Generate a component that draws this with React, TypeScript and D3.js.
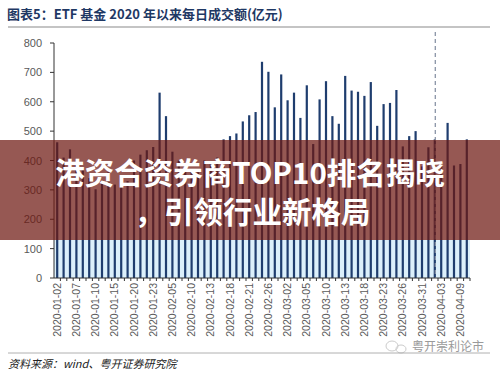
import React from "react";
import * as d3 from "d3";

const dates = [
  "2020-01-02","2020-01-03","2020-01-06","2020-01-07","2020-01-08","2020-01-09","2020-01-10","2020-01-13","2020-01-14","2020-01-15","2020-01-16","2020-01-17","2020-01-20","2020-01-21","2020-01-22","2020-01-23",
  "2020-02-03","2020-02-04","2020-02-05","2020-02-06","2020-02-07","2020-02-10","2020-02-11","2020-02-12","2020-02-13","2020-02-14","2020-02-17","2020-02-18","2020-02-19","2020-02-20","2020-02-21","2020-02-24","2020-02-25","2020-02-26","2020-02-27","2020-02-28",
  "2020-03-02","2020-03-03","2020-03-04","2020-03-05","2020-03-06","2020-03-09","2020-03-10","2020-03-11","2020-03-12","2020-03-13","2020-03-16","2020-03-17","2020-03-18","2020-03-19","2020-03-20","2020-03-23","2020-03-24","2020-03-25","2020-03-26","2020-03-27","2020-03-30","2020-03-31",
  "2020-04-01","2020-04-02","2020-04-03","2020-04-07","2020-04-08","2020-04-09","2020-04-10"
];

const turnover = [
  462,410,438,390,370,340,302,330,360,318,318,330,400,420,435,446,
  631,551,430,400,380,370,360,400,390,410,472,483,492,533,554,565,736,702,581,693,
  605,631,545,656,456,608,670,551,525,688,638,634,620,667,518,592,596,640,448,483,500,380,
  445,472,390,528,383,388,472
];

const yTicks = [0, 100, 200, 300, 400, 500, 600, 700, 800];
const markerDate = "2020-04-02";

const title = "图表5：ETF 基金 2020 年以来每日成交额(亿元)";
const bannerLine1 = "港资合资券商TOP10排名揭晓";
const bannerLine2 = "，引领行业新格局";
const source = "资料来源：wind、粤开证券研究院";
const watermark = "粤开崇利论市";

export default function App() {
  const W = 500, H = 379;
  const x = d3.scaleBand<string>().domain(dates).range([54, 470]).padding(0);
  const y = d3.scaleLinear().domain([0, 800]).range([278, 43]);
  const barW = 2.2;
  const font = "'Noto Sans CJK SC', 'Noto Sans', sans-serif";
  const labelDates = dates.filter((_, i) => i % 3 === 0);
  const mx = (x(markerDate) as number) + x.bandwidth() / 2 + 0.5;

  return (
    <svg width={W} height={H} style={{ position: "absolute", left: 0, top: 0, background: "#fff" }}>
      <rect x={0} y={0} width={W} height={H} fill="#fff" />
      {/* title */}
      <text x={7} y={19} fontFamily={font} fontSize={13} fontWeight="bold" fill="#1f3864">{title}</text>
      <line x1={8} x2={490} y1={27} y2={27} stroke="#b0b0b0" strokeWidth={1.5} />

      {/* light blue lower band */}
      <rect x={54} y={240} width={416} height={38} fill="#dcf0fb" />

      {/* y axis */}
      <line x1={54} x2={54} y1={43} y2={278} stroke="#333" strokeWidth={1} />
      {yTicks.map((t) => (
        <g key={t}>
          <line x1={50} x2={54} y1={y(t)} y2={y(t)} stroke="#333" />
          <text x={42} y={y(t) + 4} textAnchor="end" fontFamily="'Liberation Sans', Arial, sans-serif" fontSize={11} fill="#595959">{t}</text>
        </g>
      ))}

      {/* bars */}
      {dates.map((d, i) => (
        <rect key={d} x={(x(d) as number) + x.bandwidth() / 2 - barW / 2} y={y(turnover[i])} width={barW} height={278 - y(turnover[i])} fill="#1f3d6e" />
      ))}

      {/* dashed marker */}
      <line x1={mx} x2={mx} y1={32} y2={278} stroke="#8a94a6" strokeWidth={1.3} strokeDasharray="4,3" />

      {/* x axis */}
      <line x1={54} x2={470} y1={278} y2={278} stroke="#333" />
      {dates.map((d) => (
        <line key={"t" + d} x1={(x(d) as number) + x.bandwidth()} x2={(x(d) as number) + x.bandwidth()} y1={278} y2={281} stroke="#333" />
      ))}
      {labelDates.map((d) => {
        const cx = (x(d) as number) + x.bandwidth() / 2 + 3.5;
        return (
          <text key={"l" + d} transform={`translate(${cx},283) rotate(-90)`} textAnchor="end" fontFamily="'Liberation Sans', Arial, sans-serif" fontSize={10.5} fill="#595959">{d}</text>
        );
      })}

      {/* banner */}
      <rect x={0} y={140} width={W} height={100} fill="rgb(110,24,16)" fillOpacity={0.72} />
      <text x={250} y={184} textAnchor="middle" fontFamily={font} fontSize={29.5} fontWeight="bold" fill="#fff">{bannerLine1}</text>
      <text x={252.5} y={223} textAnchor="middle" fontFamily={font} fontSize={29.5} fontWeight="bold" fill="#fff">{bannerLine2}</text>

      {/* footer */}
      <line x1={8} x2={490} y1={353} y2={353} stroke="#b0b0b0" strokeWidth={1} />
      <text x={8} y={368} fontFamily={font} fontSize={11} fontStyle="italic" fill="#222">{source}</text>
      <g opacity={0.6}>
        <ellipse cx={392} cy={346} rx={6} ry={5} fill="none" stroke="#aaa" />
        <ellipse cx={401} cy={349} rx={5} ry={4} fill="none" stroke="#aaa" />
      </g>
      <text x={412} y={351} fontFamily={font} fontSize={12} fill="#9a9a9a">{watermark}</text>
    </svg>
  );
}
